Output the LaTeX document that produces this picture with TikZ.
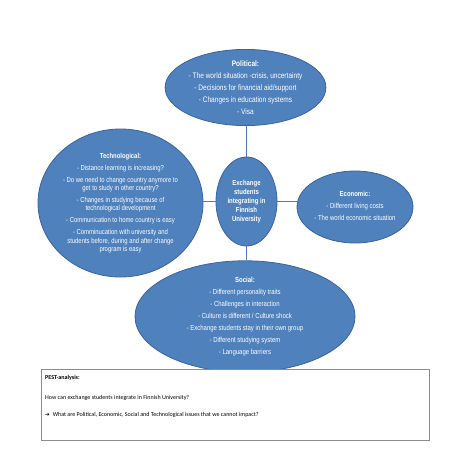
\documentclass[tikz,border=0pt]{standalone}
\usepackage{fontspec}
\setmainfont{Liberation Sans}[FakeStretch=0.82]
\newfontfamily\calib{Carlito}
\newfontfamily\dejavu{DejaVu Sans}
\usetikzlibrary{shapes.geometric}
\definecolor{fillblue}{HTML}{4F81BD}
\definecolor{edgeblue}{HTML}{3A64A0}
\definecolor{linkblue}{HTML}{4A7EBB}
\definecolor{boxgray}{HTML}{8C8C8C}
\begin{document}
\begin{tikzpicture}[x=1pt,y=-1pt,
  bubble/.style={ellipse, draw=edgeblue, line width=0.8pt, fill=fillblue, text=white, inner sep=0pt, align=center},
  link/.style={draw=linkblue, line width=1.2pt},
  infobox/.style={draw=boxgray, line width=0.8pt, fill=white},
  boxtext/.style={anchor=base west, inner sep=0pt, font=\calib\fontsize{6}{7}\selectfont}]
\useasboundingbox (0,0) rectangle (453,453);
\fill[white] (0,0) rectangle (453,453);

\node[bubble, minimum width=160pt, minimum height=75pt, font=\fontsize{8}{9.2}\selectfont] (pol) at (245.5,87.5)
 {\textbf{Political:}\\[2.8pt] - The world situation -crisis, uncertainty\\[2.8pt] - Decisions for financial aid/support\\[2.8pt] - Changes in education systems\\[2.8pt] - Visa};

\node[bubble, minimum width=165pt, minimum height=148pt, font=\fontsize{7.2}{8.3}\selectfont] (tech) at (120.5,203)
 {\textbf{Technological:}\\[3.7pt] - Distance learning is increasing?\\[3.7pt] - Do we need to change country anymore to\\ get to study in other country?\\[3.7pt] - Changes in studying because of\\ technological development\\[3.7pt] - Communication to home country is easy\\[3.7pt] - Comminucation with university and\\ students before, during and after change\\ program is easy};

\node[bubble, minimum width=61pt, minimum height=89pt, font=\bfseries\fontsize{7.3}{9}\selectfont] (core) at (246.5,201.5)
 {Exchange\\ students\\ integrating in\\ Finnish\\ University};

\node[bubble, minimum width=116pt, minimum height=72pt, font=\fontsize{7.3}{8.4}\selectfont] (eco) at (355,207)
 {\raisebox{6pt}{\begin{tabular}{@{}c@{}}\textbf{Economic:}\\[3.6pt] - Different living costs\\[3.6pt] - The world economic situation\end{tabular}}};

\node[bubble, minimum width=220pt, minimum height=87pt, font=\fontsize{7.3}{8.4}\selectfont] (soc) at (245,316.5)
 {\textbf{Social:}\\[3.6pt] - Different personality traits\\[3.6pt] - Challenges in interaction\\[3.6pt] - Culture is different / Culture shock\\[3.6pt] - Exchange students stay in their own group\\[3.6pt] - Different studying system\\[3.6pt] - Language barriers};

\draw[link] (core.north) -- (core.north |- pol.south);
\draw[link] (core.south) -- (core.south |- soc.north);
\draw[link] (core.west) -- (core.west -| tech.east);
\draw[link] (core.east) -- (core.east -| eco.west);

\node[infobox, minimum width=388pt, minimum height=71pt, anchor=north west] (box) at (41,369) {};
\node[boxtext] (t1) at (45,379) {\textbf{PEST-analysis:}};
\node[boxtext] (t2) at (45,399) {How can exchange students integrate in Finnish University?};
\node[boxtext] (t3) at (45,416) {{\dejavu\fontsize{5.5}{7}\selectfont ➔}\hspace{3pt}What are Political, Economic, Social and Technological issues that we cannot impact?};
\end{tikzpicture}
\end{document}
